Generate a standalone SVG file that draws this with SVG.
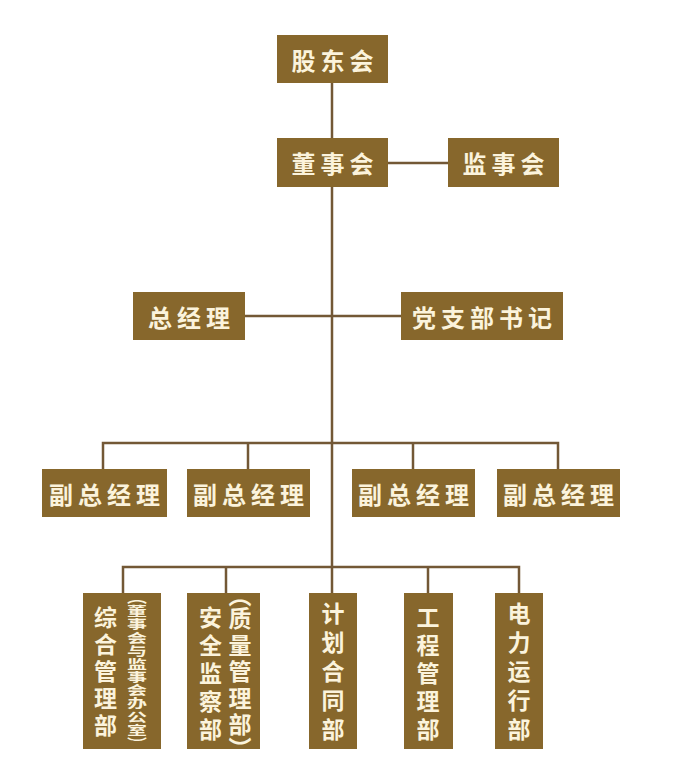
<svg xmlns="http://www.w3.org/2000/svg" width="700" height="782" viewBox="0 0 700 782">
<style>
.box{fill:#87672c}
.ln{stroke:#735836;stroke-width:2.5;fill:none}
.t{font-family:"Noto Sans CJK SC","Noto Sans",sans-serif;font-weight:bold;fill:#fbf3dc;font-size:24px;text-anchor:middle;dominant-baseline:central;letter-spacing:5px}
.v{font-family:"Noto Sans CJK SC","Noto Sans",sans-serif;font-weight:bold;fill:#fbf3dc;font-size:23px;writing-mode:vertical-rl;text-anchor:start}
</style>
<rect width="700" height="782" fill="#ffffff"/>
<g id="connectors">
<line class="ln" x1="332" y1="83" x2="332" y2="138"/>
<line class="ln" x1="388" y1="163" x2="448" y2="163"/>
<line class="ln" x1="332" y1="187" x2="332" y2="593"/>
<line class="ln" x1="245" y1="316" x2="401" y2="316"/>
<polyline class="ln" points="103,469 103,443 558,443 558,469"/>
<line class="ln" x1="248" y1="443" x2="248" y2="469"/>
<line class="ln" x1="413" y1="443" x2="413" y2="469"/>
<polyline class="ln" points="123,593 123,567 519,567 519,593"/>
<line class="ln" x1="226" y1="567" x2="226" y2="593"/>
<line class="ln" x1="428" y1="567" x2="428" y2="593"/>
</g>
<g id="n-gudonghui"><rect class="box" x="277" y="35" width="111" height="48"/><text class="t" x="335" y="59">股东会</text></g>
<g id="n-dongshihui"><rect class="box" x="277" y="138" width="111" height="49"/><text class="t" x="335" y="162.5">董事会</text></g>
<g id="n-jianshihui"><rect class="box" x="448" y="138" width="111" height="49"/><text class="t" x="506" y="162.5">监事会</text></g>
<g id="n-zongjingli"><rect class="box" x="133" y="292" width="112" height="48"/><text class="t" x="191.5" y="316">总经理</text></g>
<g id="n-dangzhibu"><rect class="box" x="401" y="292" width="162" height="48"/><text class="t" x="484.5" y="316">党支部书记</text></g>
<g id="n-fuzong1"><rect class="box" x="42" y="469" width="125" height="48"/><text class="t" x="107" y="493">副总经理</text></g>
<g id="n-fuzong2"><rect class="box" x="187" y="469" width="123" height="48"/><text class="t" x="251" y="493">副总经理</text></g>
<g id="n-fuzong3"><rect class="box" x="352" y="469" width="123" height="48"/><text class="t" x="416" y="493">副总经理</text></g>
<g id="n-fuzong4"><rect class="box" x="497" y="469" width="123" height="48"/><text class="t" x="561" y="493">副总经理</text></g>
<g id="n-zonghe"><rect class="box" x="83" y="593" width="78" height="156"/>
<text class="v" x="105.5" y="606" style="letter-spacing:4px">综合管理部</text>
<text class="v" transform="translate(137,592) scale(1,0.62)" x="0" y="0" style="font-size:20px;letter-spacing:1.3px">（董事会与监事会办公室）</text></g>
<g id="n-anquan"><rect class="box" x="187" y="593" width="73" height="156"/>
<text class="v" x="210.5" y="606" style="letter-spacing:5px">安全监察部</text>
<text class="v" x="240" y="584"><tspan x="240" y="584">（</tspan><tspan x="240" y="607">质</tspan><tspan x="240" y="633.5">量</tspan><tspan x="240" y="660">管</tspan><tspan x="240" y="686.5">理</tspan><tspan x="240" y="713">部</tspan><tspan x="240" y="737">）</tspan></text></g>
<g id="n-jihua"><rect class="box" x="309" y="593" width="48" height="156"/><text class="v" x="333" y="602" style="letter-spacing:6px">计划合同部</text></g>
<g id="n-gongcheng"><rect class="box" x="404" y="593" width="49" height="156"/><text class="v" x="428" y="606" style="letter-spacing:5px">工程管理部</text></g>
<g id="n-dianli"><rect class="box" x="495" y="593" width="48" height="156"/><text class="v" x="519" y="602" style="letter-spacing:6px">电力运行部</text></g>
</svg>
